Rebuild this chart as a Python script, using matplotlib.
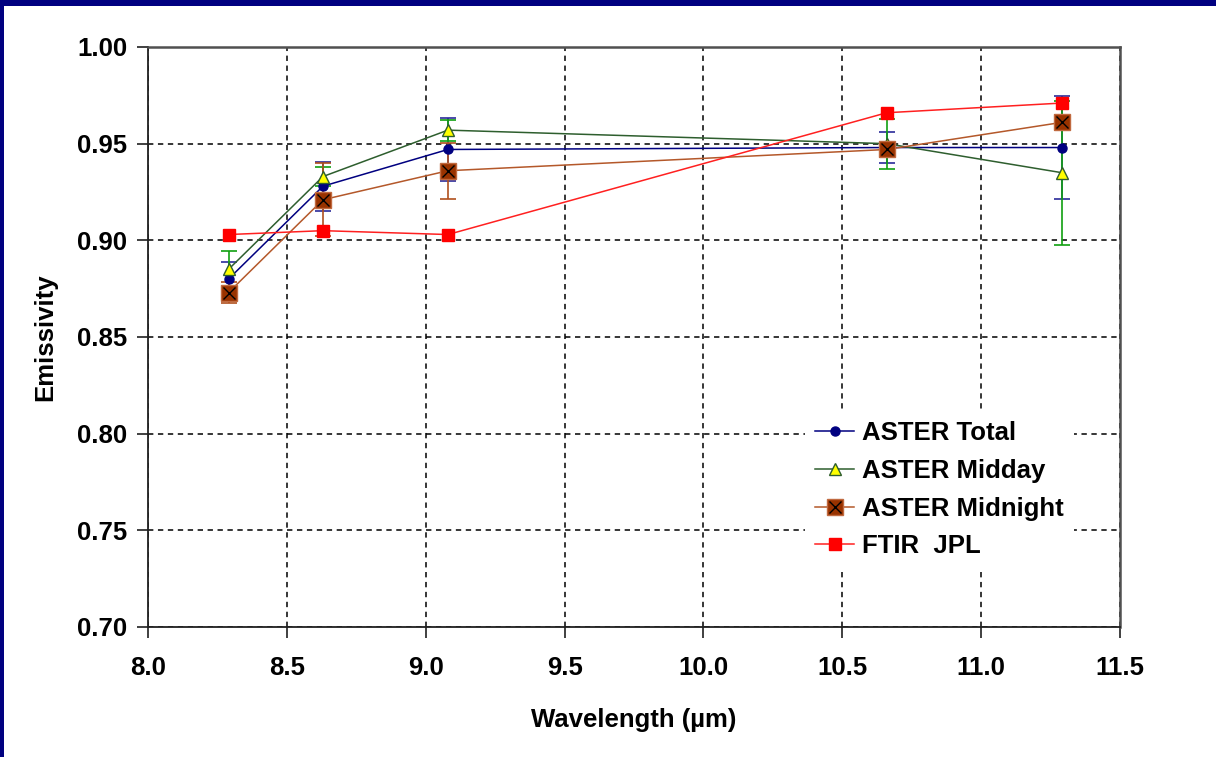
import matplotlib.pyplot as plt
from matplotlib.patches import Rectangle
from matplotlib.legend_handler import HandlerTuple

plt.rcParams['font.family'] = ['Liberation Sans', 'DejaVu Sans']
plt.rcParams['font.weight'] = 'bold'

# ASTER TIR band centres (um)
wavelength = [8.29, 8.63, 9.08, 10.66, 11.29]

total = [0.880, 0.928, 0.947, 0.948, 0.948]
total_err = [0.0086, 0.0126, 0.0164, 0.0082, 0.0266]

midday = [0.885, 0.933, 0.957, 0.950, 0.935]
midday_err = [0.0095, 0.005, 0.0055, 0.013, 0.0372]

midnight = [0.873, 0.921, 0.936, 0.947, 0.961]
midnight_err = [0.0055, 0.0188, 0.0146, 0.004, 0.004]

ftir = [0.903, 0.905, 0.903, 0.966, 0.971]

labels = ['ASTER Total', 'ASTER Midday', 'ASTER Midnight', 'FTIR  JPL']

fig = plt.figure(figsize=(12.16, 7.57), dpi=100)
fig.patch.set_facecolor('white')
# dark blue slide edges
fig.patches.append(Rectangle((0, 1 - 6 / 757), 1, 6 / 757, transform=fig.transFigure,
                             facecolor='#000080', edgecolor='none', zorder=0))
fig.patches.append(Rectangle((0, 0), 4 / 1216, 1, transform=fig.transFigure,
                             facecolor='#000080', edgecolor='none', zorder=0))

ax = fig.add_axes([148 / 1216, 130 / 757, 972 / 1216, 580 / 757])

# error bars first, markers on top
ax.errorbar(wavelength, total, yerr=total_err, fmt='none', ecolor='#2b2b9a',
            elinewidth=1.2, capsize=6, capthick=1.2, zorder=2)
ax.errorbar(wavelength, midday, yerr=midday_err, fmt='none', ecolor='#10a010',
            elinewidth=1.2, capsize=6, capthick=1.2, zorder=2)
ax.errorbar(wavelength, midnight, yerr=midnight_err, fmt='none', ecolor='#b0501e',
            elinewidth=1.2, capsize=6, capthick=1.2, zorder=2)

h1, = ax.plot(wavelength, total, color='#000080', lw=1.1, marker='o', ms=6.5,
              mfc='#000080', mec='#000080', zorder=3)
h2, = ax.plot(wavelength, midday, color='#2e5e2e', lw=1.1, marker='^', ms=9,
              mfc='#ffff00', mec='#2e5e2e', mew=1, zorder=4)
h3a, = ax.plot(wavelength, midnight, color='#b4582a', lw=1.1, marker='s', ms=11.5,
               mfc='#993300', mec='#c06a40', mew=1, zorder=5)
h3b, = ax.plot(wavelength, midnight, ls='none', marker='x', ms=8, mec='black',
               mew=1, zorder=6)
h4, = ax.plot(wavelength, ftir, color='#ff2020', lw=1.1, marker='s', ms=8.5,
              mfc='#ff0000', mec='#ff0000', zorder=7)

ax.set_xlim(8.0, 11.5)
ax.set_ylim(0.70, 1.00)
ax.set_xticks([8.0, 8.5, 9.0, 9.5, 10.0, 10.5, 11.0, 11.5])
ax.set_yticks([0.70, 0.75, 0.80, 0.85, 0.90, 0.95, 1.00])
ax.set_xticklabels(['%.1f' % v for v in ax.get_xticks()])
ax.set_yticklabels(['%.2f' % v for v in ax.get_yticks()])
ax.tick_params(direction='out', length=8, width=1.2, labelsize=18.5,
               color='#202020')
ax.tick_params(axis='y', pad=7)
ax.tick_params(axis='x', pad=13)

ax.grid(True, color='black', lw=1.1, ls=(0, (3.5, 3)), zorder=1)
for s in ['left', 'bottom']:
    ax.spines[s].set_color('#202020')
    ax.spines[s].set_linewidth(1.3)
for s in ['top', 'right']:
    ax.spines[s].set_color('#505050')
    ax.spines[s].set_linewidth(1.8)

ax.set_xlabel('Wavelength (\u00b5m)', fontsize=18.5, fontweight='bold', labelpad=20)
ax.set_ylabel('Emissivity', fontsize=18.5, fontweight='bold', labelpad=14)

leg = ax.legend([h1, h2, (h3a, h3b), h4], labels,
                handler_map={tuple: HandlerTuple(ndivide=1, pad=0)},
                loc='upper left', bbox_to_anchor=(657 / 972, 216 / 580),
                fontsize=18.5, frameon=True, fancybox=False, borderpad=0.4,
                handlelength=1.5, handletextpad=0.3, labelspacing=0.53,
                borderaxespad=0)
leg.get_frame().set_facecolor('white')
leg.get_frame().set_edgecolor('none')
leg.get_frame().set_alpha(1)
leg.set_zorder(10)

fig.savefig('out.png', dpi=100, facecolor='white')
